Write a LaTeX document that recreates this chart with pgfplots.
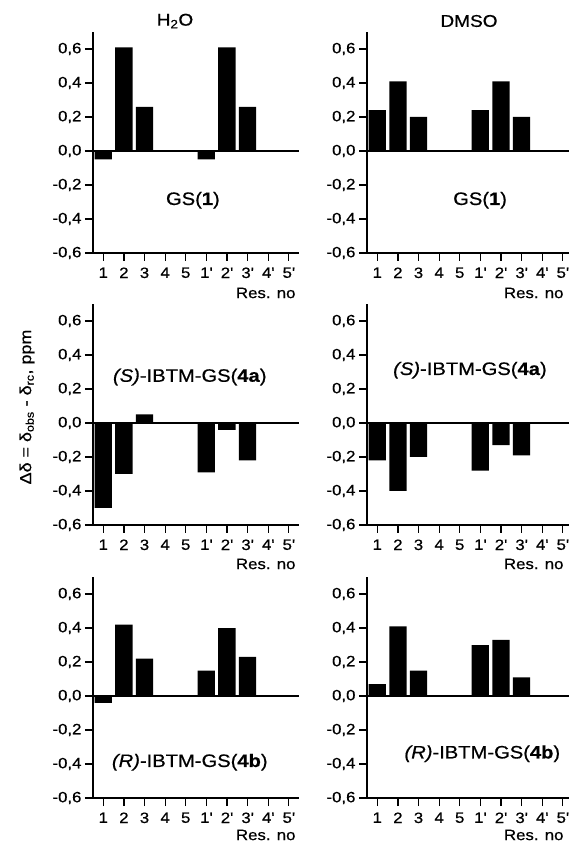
\documentclass[border=0pt]{standalone}
\usepackage{fontspec}
\setmainfont{Liberation Sans}[FakeStretch=1.12, FakeBold=0.6]
\usepackage{pgfplots}
\pgfplotsset{compat=1.18}
\newcommand\pr{\textquotesingle}
\newcommand\ticksize{\fontsize{15}{16}\selectfont}
\newcommand\notesize{\fontsize{18}{20}\selectfont}

\pgfplotsset{
  panel/.style={
    scale only axis, width=206pt, height=221pt,
    anchor=south west,
    xmin=0.5, xmax=10.5, ymin=-0.6, ymax=0.7,
    axis lines=left, axis line style={-, line width=1.4pt},
    xtick={1,...,10},
    xticklabels={1,2,3,4,5,1\pr,2\pr,3\pr,4\pr,5\pr},
    ytick={-0.6,-0.4,-0.2,0,0.2,0.4,0.6},
    tick align=outside, major tick length=8pt,
    tick style={black, line width=1.2pt},
    /pgf/number format/assume math mode=true,
    yticklabel style={/pgf/number format/.cd, use comma, fixed, fixed zerofill, precision=1},
    xticklabel style={yshift=-3pt},
    tick label style={font=\ticksize},
    clip=false,
  },
  bars/.style={ybar, bar width=0.84, bar shift=0pt, fill=black, draw=none},
  zeroline/.style={sharp plot, mark=none, black, line width=1.5pt},
}

\begin{document}
\begin{tikzpicture}
\useasboundingbox (0,0) rectangle (569pt,847pt);

% column titles and shared y label
\node at (175pt,826pt) {\fontsize{17}{19}\selectfont H\textsubscript{2}O};
\node at (469pt,826pt) {\fontsize{17}{19}\selectfont DMSO};
\node[rotate=90] at (27pt,440pt) {\fontsize{16}{18}\selectfont Δδ = δ\textsubscript{obs} - δ\textsubscript{rc}, ppm};

% row 1, H2O, GS(1)
\begin{axis}[panel, at={(93pt,594pt)}]
\addplot[bars] coordinates {(1,-0.05) (2,0.61) (3,0.26) (4,0) (5,0) (6,-0.05) (7,0.61) (8,0.26) (9,0) (10,0)};
\addplot[zeroline] coordinates {(0.5,0) (10.5,0)};
\node[font=\notesize] at (axis cs:5.35,-0.29) {GS(\textbf{1})};
\node[anchor=east, yshift=-40pt, font=\ticksize] at (rel axis cs:1,0) {Res. no};
\end{axis}

% row 1, DMSO, GS(1)
\begin{axis}[panel, at={(367pt,594pt)}]
\addplot[bars] coordinates {(1,0.24) (2,0.41) (3,0.20) (4,0) (5,0) (6,0.24) (7,0.41) (8,0.20) (9,0) (10,0)};
\addplot[zeroline] coordinates {(0.5,0) (10.5,0)};
\node[font=\notesize] at (axis cs:5.99,-0.29) {GS(\textbf{1})};
\node[anchor=east, yshift=-40pt, xshift=-6pt, font=\ticksize] at (rel axis cs:1,0) {Res. no};
\end{axis}

% row 2, H2O, (S)-IBTM-GS(4a)
\begin{axis}[panel, at={(93pt,322pt)}]
\addplot[bars] coordinates {(1,-0.50) (2,-0.30) (3,0.05) (4,0) (5,0) (6,-0.29) (7,-0.04) (8,-0.22) (9,0) (10,0)};
\addplot[zeroline] coordinates {(0.5,0) (10.5,0)};
\node[font=\notesize] at (axis cs:5.2,0.27) {\textit{(S)}-IBTM-GS(\textbf{4a})};
\node[anchor=east, yshift=-39pt, font=\ticksize] at (rel axis cs:1,0) {Res. no};
\end{axis}

% row 2, DMSO, (S)-IBTM-GS(4a)
\begin{axis}[panel, at={(367pt,322pt)}]
\addplot[bars] coordinates {(1,-0.22) (2,-0.40) (3,-0.20) (4,0) (5,0) (6,-0.28) (7,-0.13) (8,-0.19) (9,0) (10,0)};
\addplot[zeroline] coordinates {(0.5,0) (10.5,0)};
\node[font=\notesize] at (axis cs:5.5,0.31) {\textit{(S)}-IBTM-GS(\textbf{4a})};
\node[anchor=east, yshift=-39pt, xshift=-6pt, font=\ticksize] at (rel axis cs:1,0) {Res. no};
\end{axis}

% row 3, H2O, (R)-IBTM-GS(4b)
\begin{axis}[panel, at={(93pt,49pt)}]
\addplot[bars] coordinates {(1,-0.04) (2,0.42) (3,0.22) (4,0) (5,0) (6,0.15) (7,0.40) (8,0.23) (9,0) (10,0)};
\addplot[zeroline] coordinates {(0.5,0) (10.5,0)};
\node[font=\notesize] at (axis cs:5.2,-0.39) {\textit{(R)}-IBTM-GS(\textbf{4b})};
\node[anchor=east, yshift=-37pt, font=\ticksize] at (rel axis cs:1,0) {Res. no};
\end{axis}

% row 3, DMSO, (R)-IBTM-GS(4b)
\begin{axis}[panel, at={(367pt,49pt)}]
\addplot[bars] coordinates {(1,0.07) (2,0.41) (3,0.15) (4,0) (5,0) (6,0.30) (7,0.33) (8,0.11) (9,0) (10,0)};
\addplot[zeroline] coordinates {(0.5,0) (10.5,0)};
\node[font=\notesize] at (axis cs:6.1,-0.34) {\textit{(R)}-IBTM-GS(\textbf{4b})};
\node[anchor=east, yshift=-37pt, xshift=-6pt, font=\ticksize] at (rel axis cs:1,0) {Res. no};
\end{axis}
\end{tikzpicture}
\end{document}
